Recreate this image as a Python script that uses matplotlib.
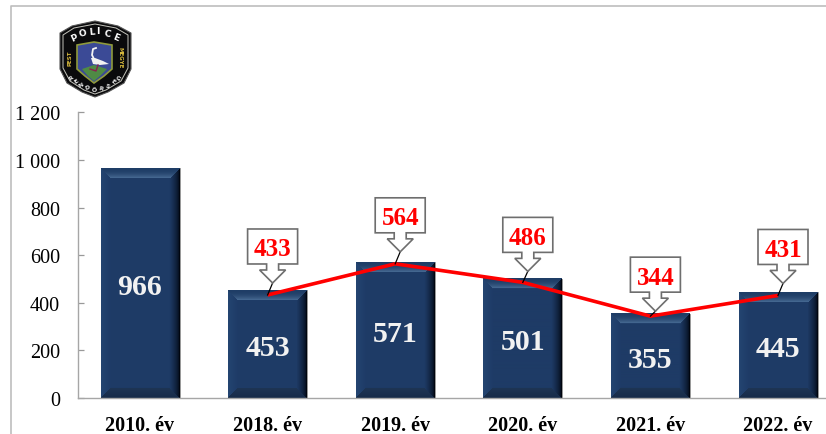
"""
Recreates the yearly police chart: bars per year, red line with callouts.
"""
import numpy as np
import matplotlib
matplotlib.use("Agg")
import matplotlib.pyplot as plt
from matplotlib.patches import Polygon

plt.rcParams["font.family"] = ["Liberation Serif", "DejaVu Serif"]

W, H = 826, 435

years = ["2010. év", "2018. év", "2019. év", "2020. év", "2021. év", "2022. év"]
bar_values = [966, 453, 571, 501, 355, 445]
line_years = ["2018. év", "2019. év", "2020. év", "2021. év", "2022. év"]
line_values = [433, 564, 486, 344, 431]
y_ticks = [0, 200, 400, 600, 800, 1000, 1200]
y_tick_labels = ["0", "200", "400", "600", "800", "1 000", "1 200"]

AX_LEFT, AX_BOTTOM, AX_TOP = 77.5, 399, 113.5
SPACING = 127.6
BAR_W_PX = 79

FACE = np.array([0x1e, 0x3b, 0x66]) / 255


def bevel_texture(w, h, bw=10):
    """RGBA image for one bar: light top, dark right and bottom edges."""
    img = np.zeros((h, w, 4))
    top_edge = np.array([0.12, 0.24, 0.40])
    top_inner = np.array([0.30, 0.44, 0.60])
    right_edge = np.array([0.0, 0.02, 0.06])
    bottom_edge = np.array([0.09, 0.17, 0.29])
    bottom_inner = np.array([0.12, 0.21, 0.33])
    left_edge = np.array([0.14, 0.27, 0.44])
    for j in range(h):
        for i in range(w):
            l, r, t, b = i, w - 1 - i, j, h - 1 - j
            d = min(l, r, t, b)
            c = FACE.copy()
            if d < bw:
                f = d / bw
                if t == d:
                    c = top_edge + f ** 2 * (top_inner - top_edge)
                elif r == d:
                    c = right_edge + f ** 0.6 * (FACE - right_edge)
                elif b == d:
                    c = bottom_edge + f * (bottom_inner - bottom_edge)
                else:
                    c = left_edge + f * (FACE - left_edge)
            img[j, i, :3] = c
            img[j, i, 3] = 1
    return img


def draw_logo(pa):
    # badge in pixel coordinates
    outer = [(60, 34), (72, 27), (95, 22), (118, 27), (131, 34), (131, 70),
             (124, 84), (108, 93), (95, 98), (82, 93), (67, 84), (60, 70)]
    pa.add_patch(Polygon(outer, closed=True, fc="#0a0a0c", ec="#555", lw=0.8, zorder=10))
    rim = [(63, 36), (74, 29), (95, 25), (116, 29), (128, 36), (128, 69),
           (121, 82), (106, 91), (95, 95), (84, 91), (70, 82), (63, 69)]
    pa.add_patch(Polygon(rim, closed=True, fc="none", ec="#c4c4bc", lw=0.7, zorder=11))
    shield = [(77, 46), (94, 43), (112, 46), (112, 70), (104, 77), (94, 84), (85, 77), (77, 70)]
    pa.add_patch(Polygon(shield, closed=True, fc="#3b4a96", ec="#8f9a3c", lw=1.2, zorder=11))
    pa.add_patch(Polygon([(82, 70), (94, 66), (107, 70), (100, 77), (94, 82), (88, 77)],
                         closed=True, fc="#4f8a45", zorder=12))
    # stork
    pa.plot([96, 93, 92, 94], [49, 50, 56, 60], color="#f4f4f4", lw=1.3, zorder=13)
    pa.add_patch(Polygon([(91, 59), (95, 59), (103, 62), (109, 65), (100, 66), (93, 65)],
                         closed=True, fc="#f2f2f2", zorder=13))
    pa.plot([98, 96, 90], [66, 72, 70], color="#8a2050", lw=1, zorder=13)
    for letter, x, y, rot in zip("POLICE", [74, 83, 92, 98, 107, 116],
                                 [38, 34, 32, 32, 34, 38], [24, 14, 5, 0, -10, -22]):
        pa.text(x, y, letter, color="white", fontsize=6.6, fontweight="bold", family="DejaVu Sans",
                ha="center", va="center", rotation=rot, zorder=14)
    for letter, x, y, rot in zip("RENDŐRSÉG", [71, 76, 81, 87, 94, 101, 107, 113, 118],
                                 [78, 82, 85, 88, 90, 89, 86, 82, 78],
                                 [40, 34, 28, 16, 2, -10, -22, -32, -40]):
        pa.text(x, y, letter, color="#eee", fontsize=4.4, fontweight="bold", family="DejaVu Sans",
                ha="center", va="center", rotation=rot, zorder=14)
    pa.text(70, 58, "PEST", color="#d6b83c", fontsize=4, fontweight="bold", family="DejaVu Sans",
            rotation=90, ha="center", va="center", zorder=14)
    pa.text(120, 58, "MEGYE", color="#d6b83c", fontsize=4, fontweight="bold", family="DejaVu Sans",
            rotation=-90, ha="center", va="center", zorder=14)


def main():
    fig = plt.figure(figsize=(W / 100, H / 100), dpi=100, facecolor="white")

    ax = fig.add_axes([AX_LEFT / W, (H - AX_BOTTOM) / H, 1 - AX_LEFT / W, (AX_BOTTOM - AX_TOP) / H])
    x = np.arange(len(years))
    x0 = -(140 - AX_LEFT) / SPACING
    x1 = x0 + (W - AX_LEFT) / SPACING
    ax.set_xlim(x0, x1)
    ax.set_ylim(0, 1200)
    px_x = 1 / SPACING
    px_y = 1200 / (AX_BOTTOM - AX_TOP)

    bar_w = BAR_W_PX * px_x
    bars = ax.bar(x, bar_values, width=bar_w, color="#1e3b66", edgecolor="#9a9a9a", linewidth=0.7, zorder=2)
    for b, val in zip(bars, bar_values):
        h_px = int(round(val / px_y))
        ax.imshow(bevel_texture(BAR_W_PX, h_px), extent=(b.get_x(), b.get_x() + bar_w, 0, val),
                  aspect="auto", zorder=2.1, interpolation="bilinear")
        ax.text(b.get_x() + bar_w / 2, val / 2 - 3.5 * px_y, str(val), color="#f2f2f2", fontsize=21.5,
                fontweight="bold", ha="center", va="center", zorder=2.5)
    ax.set_xlim(x0, x1)
    ax.set_ylim(0, 1200)

    # red line
    line_x = [years.index(y) for y in line_years]
    ax.plot(line_x, line_values, color="#ff0000", lw=2.6, zorder=3, solid_capstyle="butt")

    # callouts, sized in pixels around each line point
    tip_gaps = [12, 12, 11, 5, 12]
    for lx, lv, gap in zip(line_x, line_values, tip_gaps):
        tip_x, tip_y = lx + 5 * px_x, lv + gap * px_y
        arrow = [(0, 0), (13, 13), (6, 13), (6, 19), (25, 19), (25, 54), (-25, 54), (-25, 19),
                 (-6, 19), (-6, 13), (-13, 13)]
        pts = [(tip_x + dx * px_x, tip_y + dy * px_y) for dx, dy in arrow]
        ax.plot([lx, tip_x], [lv, tip_y], color="black", lw=0.9, zorder=3.5)
        ax.add_patch(Polygon(pts, closed=True, fc="white", ec="#6e6e6e", lw=1.2, zorder=4))
        ax.text(tip_x, tip_y + 34 * px_y, str(lv), color="#ff0000", fontsize=18, fontweight="bold",
                ha="center", va="center", zorder=5)

    ax.set_xticks(x)
    ax.set_xticklabels(years, fontsize=14.5, fontweight="bold", color="black")
    ax.set_yticks(y_ticks)
    ax.set_yticklabels(y_tick_labels, fontsize=14.5, color="black")
    ax.tick_params(axis="x", length=0, pad=12)
    ax.tick_params(axis="y", direction="in", length=4.5, width=0.9, color="#999999", pad=12.5)
    for s in ["top", "right"]:
        ax.spines[s].set_visible(False)
    for s in ["left", "bottom"]:
        ax.spines[s].set_color("#a6a6a6")
        ax.spines[s].set_linewidth(1.0)

    # overlay in pixel coordinates for the outer frame and badge
    pa = fig.add_axes([0, 0, 1, 1], facecolor="none")
    pa.set_xlim(0, W)
    pa.set_ylim(H, 0)
    pa.axis("off")
    pa.plot([10.5, 10.5, W], [H, 6.5, 6.5], color="#bdbdbd", lw=1.2)
    draw_logo(pa)

    fig.savefig("out.png", dpi=100)
    plt.close(fig)


if __name__ == "__main__":
    main()
